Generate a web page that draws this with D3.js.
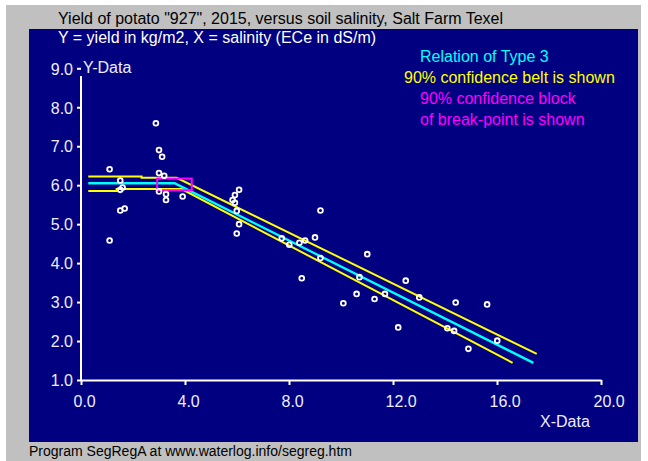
<!DOCTYPE html>
<html>
<head>
<meta charset="utf-8">
<script src="https://cdn.jsdelivr.net/npm/d3@7"></script>
<style>
  html, body { margin: 0; padding: 0; background: #ffffff; }
  svg { display: block; }
  text { font-family: "Liberation Sans", Arial, sans-serif; }
</style>
</head>
<body>
<svg id="chart" width="648" height="461"></svg>
<script>
// ---- data ----
const salinity = [1.10, 1.10, 1.51, 1.60, 1.51, 1.51, 1.68, 2.88, 3.00, 3.12, 3.00, 3.20, 3.00, 3.27, 3.27, 3.91,
  6.08, 5.92, 5.83, 5.92, 5.99, 6.08, 5.99, 7.72, 8.01, 8.40, 8.62, 9.00, 9.21, 9.21, 8.49,
  11.01, 10.71, 10.60, 10.09, 11.29, 11.69, 12.49, 13.01, 12.20, 14.41, 15.62, 14.09, 14.35, 14.90, 16.01];
const yieldKg = [6.41, 4.58, 6.12, 5.94, 5.88, 5.35, 5.40, 7.59, 6.90, 6.73, 6.31, 6.24, 5.84, 5.77, 5.62, 5.71,
  5.88, 5.75, 5.62, 5.55, 5.34, 5.00, 4.76, 4.64, 4.47, 4.52, 4.58, 4.66, 5.35, 4.13, 3.61,
  4.23, 3.64, 3.21, 2.97, 3.08, 3.21, 3.55, 3.12, 2.35, 2.99, 2.94, 2.33, 2.26, 1.80, 2.01];

// segmented regression (type 3) and its 90% confidence belt
const fitX = [0.28, 3.60, 17.40];
const fitY = [6.05, 6.05, 1.44];
const upperX = [0.28, 2.33, 2.33, 3.68, 17.53];
const upperY = [6.22, 6.22, 6.19, 6.19, 1.67];
const lowerX = [0.28, 1.37, 1.37, 3.87, 16.60];
const lowerY = [5.85, 5.85, 5.90, 5.90, 1.44];
// 90% confidence block of the break-point
const blockX = [2.93, 4.26];
const blockY = [5.87, 6.17];

const xTicks = [0, 4, 8, 12, 16, 20];
const yTicks = [1, 2, 3, 4, 5, 6, 7, 8, 9];

const titleText = 'Yield of potato "927", 2015, versus soil salinity, Salt Farm Texel';
const subtitleText = 'Y = yield in kg/m2, X = salinity (ECe in dS/m)';
const legendLines = [
  {t: 'Relation of Type 3', c: '#00ffff', dx: 16},
  {t: '90% confidence belt is shown', c: '#ffff00', dx: 0},
  {t: '90% confidence block', c: '#ff00ff', dx: 16},
  {t: 'of break-point is shown', c: '#ff00ff', dx: 16}
];
const footerText = 'Program SegRegA at www.waterlog.info/segreg.htm';

// ---- drawing ----
const svg = d3.select('#chart');
const x = d3.scaleLinear().domain([0, 20]).range([81, 601]);
const y = d3.scaleLinear().domain([1, 9]).range([380, 68.3]);

svg.append('rect').attr('x', 6).attr('y', 5).attr('width', 635).attr('height', 456).attr('fill', '#c0c0c0');
svg.append('rect').attr('x', 29).attr('y', 29).attr('width', 609).attr('height', 413).attr('fill', '#000080');

svg.append('text').attr('x', 58).attr('y', 24).attr('font-size', 16).attr('fill', '#000000').text(titleText);
svg.append('text').attr('x', 58).attr('y', 43).attr('font-size', 16).attr('fill', '#ffffff').text(subtitleText);

legendLines.forEach((d, i) => {
  svg.append('text').attr('x', 404 + d.dx).attr('y', 62 + i * 21).attr('font-size', 16)
    .attr('fill', d.c).text(d.t);
});

svg.append('text').attr('x', 29).attr('y', 456).attr('font-size', 14).attr('fill', '#000000').text(footerText);

// axes
const axisColor = '#ffffff';
const xAxis = svg.append('g').attr('transform', 'translate(0,380)')
  .call(d3.axisBottom(x).tickValues(xTicks).tickSize(5).tickSizeOuter(0).tickFormat(d3.format('.1f')));
xAxis.select('.domain').attr('stroke', axisColor).attr('stroke-width', 2);
xAxis.selectAll('.tick line').attr('stroke', axisColor).attr('stroke-width', 2);
xAxis.selectAll('.tick text').attr('fill', '#eeeeff').attr('font-size', 16)
  .attr('font-family', '"Liberation Sans", Arial, sans-serif')
  .attr('text-anchor', 'start').attr('dx', -8).attr('dy', 0).attr('y', 27);

const yAxis = svg.append('g').attr('transform', 'translate(81,0)')
  .call(d3.axisLeft(y).tickValues(yTicks).tickSize(4).tickSizeOuter(0).tickFormat(d3.format('.1f')));
yAxis.select('.domain').remove();
yAxis.selectAll('.tick line').attr('stroke', axisColor).attr('stroke-width', 2);
yAxis.selectAll('.tick text').attr('fill', '#eeeeff').attr('font-size', 16)
  .attr('font-family', '"Liberation Sans", Arial, sans-serif')
  .attr('x', -8).attr('dy', '0.36em');
svg.append('line').attr('x1', 81).attr('x2', 81).attr('y1', y(1) + 1).attr('y2', y(8.8))
  .attr('stroke', axisColor).attr('stroke-width', 2);

svg.append('text').attr('x', 83).attr('y', 73).attr('font-size', 16).attr('fill', '#eeeeff').text('Y-Data');
svg.append('text').attr('x', 540).attr('y', 427).attr('font-size', 16).attr('fill', '#eeeeff').text('X-Data');

// belt and fit
const line = d3.line().x(d => x(d[0])).y(d => y(d[1]));
svg.append('path').attr('d', line(d3.zip(upperX, upperY))).attr('fill', 'none')
  .attr('stroke', '#ffff00').attr('stroke-width', 2);
svg.append('path').attr('d', line(d3.zip(lowerX, lowerY))).attr('fill', 'none')
  .attr('stroke', '#ffff00').attr('stroke-width', 2);
svg.append('path').attr('d', line(d3.zip(fitX, fitY))).attr('fill', 'none')
  .attr('stroke', '#00ffff').attr('stroke-width', 2.3);

svg.append('rect').attr('x', x(blockX[0])).attr('y', y(blockY[1]))
  .attr('width', x(blockX[1]) - x(blockX[0])).attr('height', y(blockY[0]) - y(blockY[1]))
  .attr('fill', 'none').attr('stroke', '#ff00ff').attr('stroke-width', 2);

// observations
svg.append('g').selectAll('circle').data(d3.zip(salinity, yieldKg)).join('circle')
  .attr('cx', d => x(d[0])).attr('cy', d => y(d[1])).attr('r', 2.4)
  .attr('fill', 'none').attr('stroke', '#ffffff').attr('stroke-width', 1.8);
</script>
</body>
</html>
